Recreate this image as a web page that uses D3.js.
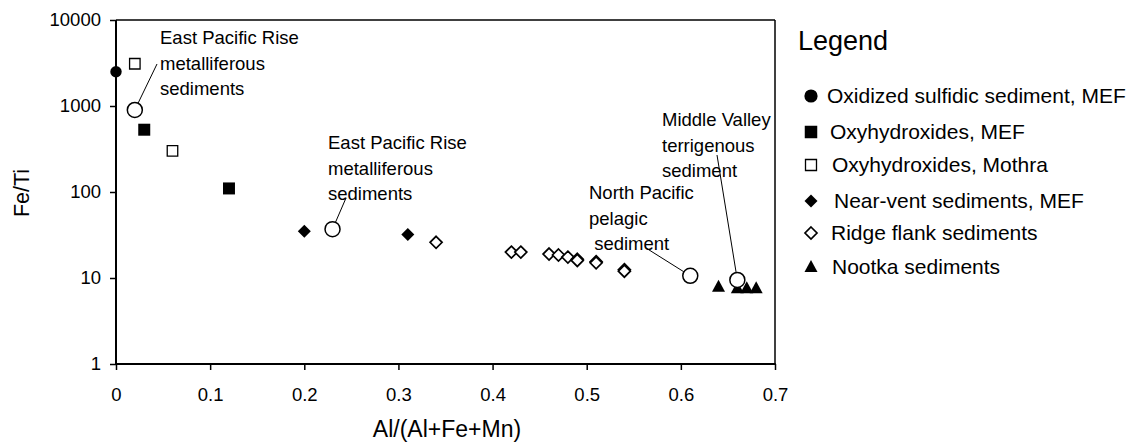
<!DOCTYPE html>
<html>
<head>
<meta charset="utf-8">
<script src="https://cdn.jsdelivr.net/npm/d3@7"></script>
<style>
  html, body { margin: 0; padding: 0; background: #fff; }
  svg { display: block; font-family: "Liberation Sans", Arial, sans-serif; }
</style>
</head>
<body>
<svg id="chart" width="1131" height="443"></svg>
<script>
// ---- Data ----
const xTicks = [0, 0.1, 0.2, 0.3, 0.4, 0.5, 0.6, 0.7];
const yTicks = [1, 10, 100, 1000, 10000];

const oxidizedX = [0];
const oxidizedY = [2500];
const oxyMefX = [0.03, 0.12];
const oxyMefY = [530, 110];
const oxyMothraX = [0.02, 0.06];
const oxyMothraY = [3100, 300];
const nearVentX = [0.20, 0.31];
const nearVentY = [35, 32];
const ridgeX = [0.34, 0.42, 0.43, 0.46, 0.47, 0.48, 0.49, 0.49, 0.51, 0.51, 0.54, 0.54];
const ridgeY = [26, 20, 20, 19, 18.5, 17.5, 16.5, 16, 15.5, 15, 12.5, 12];
const nootkaX = [0.64, 0.66, 0.67, 0.68];
const nootkaY = [7.9, 7.6, 7.6, 7.6];

const refX = [0.02, 0.23, 0.61, 0.66];
const refY = [900, 37, 10.6, 9.5];
const refLabels = [
  ["East Pacific Rise", "metalliferous", "sediments"],
  ["East Pacific Rise", "metalliferous", "sediments"],
  ["North Pacific", "pelagic", " sediment"],
  ["Middle Valley", "terrigenous", "sediment"]
];

const legendTitle = "Legend";
const legendLabels = [
  "Oxidized sulfidic sediment, MEF",
  "Oxyhydroxides, MEF",
  "Oxyhydroxides, Mothra",
  "Near-vent sediments, MEF",
  "Ridge flank sediments",
  "Nootka sediments"
];
const xTitle = "Al/(Al+Fe+Mn)";
const yTitle = "Fe/Ti";

// ---- Layout ----
const svg = d3.select("#chart");
const L = 116, R = 775, T = 20, B = 364;
const x = d3.scaleLinear().domain([0, 0.7]).range([L, R]);
const y = d3.scaleLog().domain([1, 10000]).range([B, T]);

// marker shape paths centered at 0,0
function shapePath(kind, s) {
  const p = d3.path();
  if (kind === "circle") { p.arc(0, 0, s, 0, 2 * Math.PI); }
  else if (kind === "square") { p.rect(-s / 2, -s / 2, s, s); }
  else if (kind === "diamond") { p.moveTo(0, -s); p.lineTo(s, 0); p.lineTo(0, s); p.lineTo(-s, 0); p.closePath(); }
  else if (kind === "triangle") { const h = s * 0.92; p.moveTo(0, -h * 0.58); p.lineTo(s / 2, h * 0.42); p.lineTo(-s / 2, h * 0.42); p.closePath(); }
  return p.toString();
}

const series = [
  { xs: oxidizedX, ys: oxidizedY, kind: "circle", size: 5.7, fill: "#000", stroke: "none", sw: 0, lsize: 6.6 },
  { xs: oxyMefX, ys: oxyMefY, kind: "square", size: 12, fill: "#000", stroke: "none", sw: 0, lsize: 12.5 },
  { xs: oxyMothraX, ys: oxyMothraY, kind: "square", size: 10.5, fill: "#fff", stroke: "#000", sw: 1.3, lsize: 11 },
  { xs: nearVentX, ys: nearVentY, kind: "diamond", size: 6.5, fill: "#000", stroke: "none", sw: 0, lsize: 6.5 },
  { xs: ridgeX, ys: ridgeY, kind: "diamond", size: 6, fill: "#fff", stroke: "#000", sw: 1.7, lsize: 6 },
  { xs: nootkaX, ys: nootkaY, kind: "triangle", size: 13, fill: "#000", stroke: "none", sw: 0, lsize: 13 }
];

// ---- Axes ----
const xAxis = d3.axisBottom(x).tickValues(xTicks)
  .tickFormat(d => d === 0 ? "0" : d3.format(".1f")(d))
  .tickSizeInner(6).tickSizeOuter(0).tickPadding(18);
const gx = svg.append("g").attr("transform", `translate(0,${B})`).call(xAxis);
gx.select(".domain").remove();
gx.selectAll("line").attr("stroke", "#000").attr("stroke-width", 1.5);
gx.selectAll("text").attr("font-size", 18.5).attr("fill", "#000").attr("font-family", "Liberation Sans, Arial, sans-serif");

const yAxis = d3.axisLeft(y).tickValues(yTicks).tickFormat(d3.format("d"))
  .tickSizeInner(6).tickSizeOuter(0).tickPadding(9);
const gy = svg.append("g").attr("transform", `translate(${L},0)`).call(yAxis);
gy.select(".domain").remove();
gy.selectAll("line").attr("stroke", "#000").attr("stroke-width", 1.5);
gy.selectAll("text").attr("font-size", 18.5).attr("fill", "#000").attr("font-family", "Liberation Sans, Arial, sans-serif");

// frame
svg.append("line").attr("x1", L).attr("x2", R).attr("y1", T).attr("y2", T).attr("stroke", "#000").attr("stroke-width", 1.5);
svg.append("line").attr("x1", R).attr("x2", R).attr("y1", T).attr("y2", B).attr("stroke", "#000").attr("stroke-width", 1.5);
svg.append("line").attr("x1", L).attr("x2", L).attr("y1", T).attr("y2", B + 0.75).attr("stroke", "#000").attr("stroke-width", 2);
svg.append("line").attr("x1", L - 1).attr("x2", R + 0.75).attr("y1", B).attr("y2", B).attr("stroke", "#000").attr("stroke-width", 2);

// axis titles
svg.append("text").attr("x", 447).attr("y", 437).attr("text-anchor", "middle")
  .attr("font-size", 23).text(xTitle);
svg.append("text").attr("transform", "translate(29,193) rotate(-90)").attr("text-anchor", "middle")
  .attr("font-size", 21.5).text(yTitle);

// ---- Annotations (leader lines + labels) ----
const annPos = [
  { tx: 160, ty: 38, lx: 157, ly: 64 },
  { tx: 328, ty: 143, lx: 346, ly: 198 },
  { tx: 589, ty: 193, lx: 646, ly: 248 },
  { tx: 662, ty: 120, lx: 717, ly: 155 }
];
const refR = 7.5;
refLabels.forEach((lines, i) => {
  const cx = x(refX[i]), cy = y(refY[i]);
  const a = annPos[i];
  const dx = a.lx - cx, dy = a.ly - cy, len = Math.hypot(dx, dy);
  svg.append("line")
    .attr("x1", cx + dx / len * refR).attr("y1", cy + dy / len * refR)
    .attr("x2", a.lx).attr("y2", a.ly)
    .attr("stroke", "#000").attr("stroke-width", 1);
  const t = svg.append("text").attr("font-size", 18.5).attr("fill", "#000");
  lines.forEach((ln, j) => {
    t.append("tspan").attr("x", a.tx).attr("y", a.ty + j * 25.5).attr("dy", "0.35em")
      .attr("xml:space", "preserve").style("white-space", "pre").text(ln);
  });
});

// ---- Data markers ----
series.forEach(s => {
  svg.append("g").selectAll("path")
    .data(s.xs.map((v, i) => [v, s.ys[i]]))
    .join("path")
    .attr("d", shapePath(s.kind, s.size))
    .attr("transform", d => `translate(${x(d[0])},${y(d[1])})`)
    .attr("fill", s.fill).attr("stroke", s.stroke).attr("stroke-width", s.sw);
});
svg.append("g").selectAll("circle")
  .data(refX.map((v, i) => [v, refY[i]]))
  .join("circle")
  .attr("cx", d => x(d[0])).attr("cy", d => y(d[1])).attr("r", refR)
  .attr("fill", "#fff").attr("stroke", "#000").attr("stroke-width", 1.5);

// ---- Legend ----
svg.append("text").attr("x", 798).attr("y", 41).attr("dy", "0.35em")
  .attr("font-size", 27).text(legendTitle);
const legRowY = [96, 132, 165, 201, 233, 267];
const legTextX = [827, 830, 832, 834, 831, 832];
legendLabels.forEach((lab, i) => {
  const s = series[i];
  svg.append("path").attr("d", shapePath(s.kind, s.lsize))
    .attr("transform", `translate(811,${legRowY[i]})`)
    .attr("fill", s.fill).attr("stroke", s.stroke).attr("stroke-width", s.sw);
  svg.append("text").attr("x", legTextX[i]).attr("y", legRowY[i]).attr("dy", "0.35em")
    .attr("font-size", 21).text(lab);
});
</script>
</body>
</html>
